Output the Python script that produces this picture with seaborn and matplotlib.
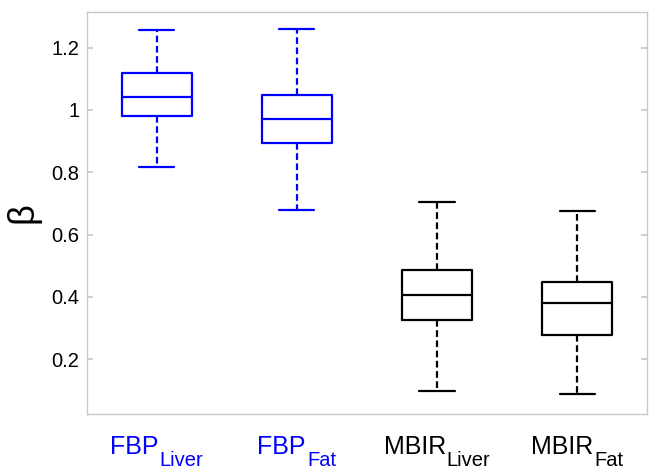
import matplotlib
matplotlib.use("Agg")
import matplotlib.pyplot as plt
import matplotlib.transforms as mtransforms
import seaborn as sns
import pandas as pd

# Five-number summaries (min, q1, median, q3, max)
groups = ["FBP_Liver", "FBP_Fat", "MBIR_Liver", "MBIR_Fat"]
fbp_liver = [0.816, 0.979, 1.042, 1.119, 1.257]
fbp_fat = [0.680, 0.894, 0.971, 1.049, 1.260]
mbir_liver = [0.097, 0.326, 0.407, 0.485, 0.703]
mbir_fat = [0.087, 0.279, 0.379, 0.449, 0.676]
label_main = ["FBP", "FBP", "MBIR", "MBIR"]
label_sub = ["Liver", "Fat", "Liver", "Fat"]
colors = ["#0000ff", "#0000ff", "#000000", "#000000"]
yticks = [0.2, 0.4, 0.6, 0.8, 1.0, 1.2]
ytick_labels = ["0.2", "0.4", "0.6", "0.8", "1", "1.2"]

df = pd.DataFrame({
    "group": [g for g, vals in zip(groups, [fbp_liver, fbp_fat, mbir_liver, mbir_fat]) for _ in vals],
    "beta": fbp_liver + fbp_fat + mbir_liver + mbir_fat,
})

sns.set_theme(style="white")
plt.rcParams["font.family"] = ["Liberation Sans", "DejaVu Sans"]

fig = plt.figure(figsize=(6.52, 4.70), dpi=100)
ax = fig.add_axes([86.5 / 652, 1 - 414 / 470, (647.3 - 86.5) / 652, (414 - 11.5) / 470])

sns.boxplot(data=df, x="group", y="beta", hue="group", order=groups, hue_order=groups,
            palette=colors, saturation=1, fill=False, dodge=False, width=0.5,
            whis=(0, 100), linewidth=1.6, legend=False, ax=ax,
            whiskerprops=dict(linestyle=(0, (3.0, 1.6))))

ax.set_xlim(-0.5, 3.5)
ax.set_ylim(0.024, 1.316)
ax.set_yticks(yticks)
ax.set_yticklabels(ytick_labels, fontsize=14.5, color="black")
ax.set_xticks(range(len(groups)))
ax.set_xticklabels([])
ax.set_xlabel("")
ax.set_ylabel("β", fontsize=26, labelpad=8, color="black")

for s in ax.spines.values():
    s.set_visible(True)
    s.set_color("#c8c8c8")
    s.set_linewidth(1.0)
ax.tick_params(axis="y", direction="in", length=4, color="#c8c8c8", left=True, right=True,
               pad=5, labelcolor="black")
ax.tick_params(axis="x", length=0)

# two-part tick labels (main text + subscript), centred under each box
renderer = fig.canvas.get_renderer()
base = mtransforms.blended_transform_factory(ax.transData, ax.transAxes)
for i, (m, s, c) in enumerate(zip(label_main, label_sub, colors)):
    t_main = ax.text(i, 0, m, fontsize=18, color=c, ha="left", va="baseline",
                     transform=base, clip_on=False)
    t_sub = ax.text(i, 0, s, fontsize=14.5, color=c, ha="left", va="baseline",
                    transform=base, clip_on=False)
    w_main = t_main.get_window_extent(renderer).width
    w_sub = t_sub.get_window_extent(renderer).width
    total = w_main + 1 + w_sub
    dpi = fig.dpi
    x0 = -total / 2
    t_main.set_transform(base + mtransforms.ScaledTranslation(x0 / dpi, -40 / dpi, fig.dpi_scale_trans))
    t_sub.set_transform(base + mtransforms.ScaledTranslation((x0 + w_main + 1) / dpi, -51.5 / dpi,
                                                             fig.dpi_scale_trans))

fig.savefig("out.png", dpi=100)
